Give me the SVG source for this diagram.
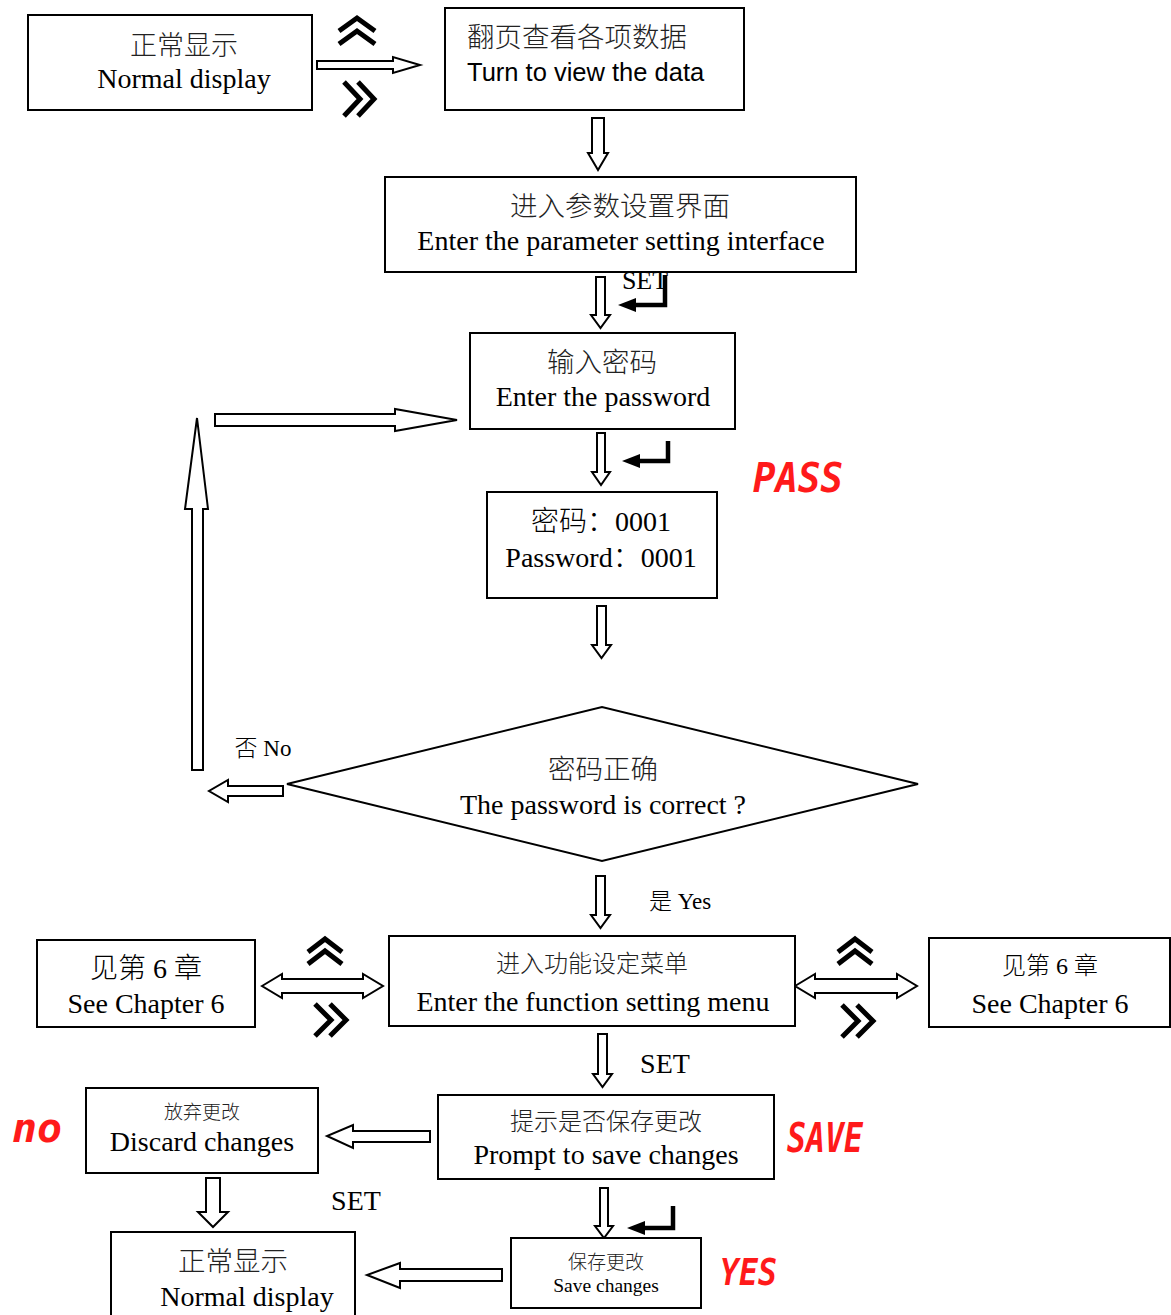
<svg xmlns="http://www.w3.org/2000/svg" width="1171" height="1315" viewBox="0 0 1171 1315">
<style>
.bg{fill:#fff}
.box{fill:#fff;stroke:#000;stroke-width:2}
.arr{fill:#fff;stroke:#000;stroke-width:2;stroke-linejoin:miter}
.chev{fill:none;stroke:#000;stroke-width:5;stroke-linejoin:miter;stroke-linecap:butt}
.ent{fill:none;stroke:#000;stroke-width:4.5}
.enth{fill:#000}
.t{font-family:"Liberation Serif","Noto Sans CJK SC",serif;font-size:28px;font-weight:300;fill:#000;text-anchor:middle}
.cn{font-family:"Liberation Serif","Noto Sans CJK SC",serif;font-weight:300;fill:#222;text-anchor:middle}
.seg{font-family:"DejaVu Sans Mono",monospace;font-weight:bold;font-style:italic;fill:#ff1a1a}
</style>
<rect class="bg" x="0" y="0" width="1171" height="1315"/>

<g id="connectors">
  <polygon class="arr" points="317,61 393,61 393,57 420,65 393,73 393,69 317,69"/>
  <polyline class="chev" points="339,31 357,18 375,31"/>
  <polyline class="chev" points="339,44 357,31 375,44"/>
  <polyline class="chev" points="344,82 360,99 344,116"/>
  <polyline class="chev" points="358,82 374,99 358,116"/>
  <polygon class="arr" points="592,118 604,118 604,153 608,153 598,170 588,153 592,153"/>
  <polygon class="arr" points="596,277 605,277 605,315 610,315 600.5,328 591,315 596,315"/>
  <polyline class="ent" points="665,275 665,305 632,305"/>
  <polygon class="enth" points="618,305 636,298 636,312"/>
  <polygon class="arr" points="215,414 395,414 395,409 457,420 395,431 395,426 215,426"/>
  <polygon class="arr" points="192,770 203,770 203,509 208,509 197,418 185,509 192,509"/>
  <polygon class="arr" points="597,433 605,433 605,472 610,472 601,485 592,472 597,472"/>
  <polyline class="ent" points="668,441 668,461 636,461"/>
  <polygon class="enth" points="622,461 640,454 640,468"/>
  <polygon class="arr" points="597,606 606,606 606,645 611,645 601.5,658 592,645 597,645"/>
  <polygon class="arr" points="283,786 228,786 228,780 209,791 228,802 228,796 283,796"/>
  <polygon class="arr" points="596,876 605,876 605,915 610,915 600.5,928 591,915 596,915"/>
  <polygon class="arr" points="262,986 282,974 282,979 363,979 363,974 383,986 363,998 363,993 282,993 282,998"/>
  <polyline class="chev" points="308,952 325,939 342,952"/>
  <polyline class="chev" points="308,964 325,951 342,964"/>
  <polyline class="chev" points="315,1004 331,1020 315,1036"/>
  <polyline class="chev" points="330,1004 346,1020 330,1036"/>
  <polygon class="arr" points="795,986 815,974 815,979 897,979 897,974 917,986 897,998 897,993 815,993 815,998"/>
  <polyline class="chev" points="838,952 855,939 872,952"/>
  <polyline class="chev" points="838,964 855,951 872,964"/>
  <polyline class="chev" points="842,1005 858,1021 842,1037"/>
  <polyline class="chev" points="857,1005 873,1021 857,1037"/>
  <polygon class="arr" points="598,1034 607,1034 607,1074 612,1074 602.5,1087 593,1074 598,1074"/>
  <polygon class="arr" points="430,1131 353,1131 353,1125 327,1136 353,1148 353,1142 430,1142"/>
  <polygon class="arr" points="206,1178 220,1178 220,1212 228,1212 213,1227 198,1212 206,1212"/>
  <polygon class="arr" points="600,1188 608,1188 608,1226 613,1226 604,1238 595,1226 600,1226"/>
  <polyline class="ent" points="673,1206 673,1228 641,1228"/>
  <polygon class="enth" points="627,1228 645,1221 645,1235"/>
  <polygon class="arr" points="502,1269 400,1269 400,1263 367,1275 400,1288 400,1281 502,1281"/>
</g>

<g id="labels">
  <text class="t" x="645" y="289" style="font-size:26px">SET</text>
  <text class="t" x="263" y="756" style="font-size:23px">否 No</text>
  <text class="t" x="680" y="909" style="font-size:23px">是 Yes</text>
  <text class="t" x="665" y="1073">SET</text>
  <text class="t" x="356" y="1210">SET</text>
  <text class="seg" x="753" y="492" style="font-size:40px" textLength="90" lengthAdjust="spacingAndGlyphs">PASS</text>
  <text class="seg" x="787" y="1152" style="font-size:40px" textLength="76" lengthAdjust="spacingAndGlyphs">SAVE</text>
  <text class="seg" x="12" y="1142" style="font-size:40px" textLength="50" lengthAdjust="spacingAndGlyphs">no</text>
  <text class="seg" x="720" y="1285" style="font-size:37px" textLength="57" lengthAdjust="spacingAndGlyphs">YES</text>
</g>

<g id="n-normal1">
  <rect class="box" x="28" y="15" width="284" height="95"/>
  <text class="cn" x="184" y="55" style="font-size:27px">正常显示</text>
  <text class="t" x="184" y="88">Normal display</text>
</g>
<g id="n-view">
  <rect class="box" x="445" y="8" width="299" height="102"/>
  <text class="cn" x="467" y="47" style="font-size:27.5px;text-anchor:start">翻页查看各项数据</text>
  <text x="467" y="81" style="font-family:'Liberation Sans',Arial,sans-serif;font-size:25.5px">Turn to view the data</text>
</g>
<g id="n-param">
  <rect class="box" x="385" y="177" width="471" height="95"/>
  <text class="cn" x="620" y="216" style="font-size:27.5px">进入参数设置界面</text>
  <text class="t" x="621" y="250">Enter the parameter setting interface</text>
</g>
<g id="n-pwd">
  <rect class="box" x="470" y="333" width="265" height="96"/>
  <text class="cn" x="602" y="372" style="font-size:27.5px">输入密码</text>
  <text class="t" x="603" y="406">Enter the password</text>
</g>
<g id="n-pwdval">
  <rect class="box" x="487" y="492" width="230" height="106"/>
  <text class="t" x="601" y="531">密码：0001</text>
  <text class="t" x="601" y="567">Password：0001</text>
</g>
<g id="n-check">
  <polygon class="box" points="287,784 602,707 918,784 602,861"/>
  <text class="cn" x="603" y="779" style="font-size:27.5px">密码正确</text>
  <text class="t" x="603" y="814">The password is correct ?</text>
</g>
<g id="n-func">
  <rect class="box" x="389" y="936" width="406" height="90"/>
  <text class="cn" x="592" y="972" style="font-size:24px">进入功能设定菜单</text>
  <text class="t" x="593" y="1011">Enter the function setting menu</text>
</g>
<g id="n-ch6-left">
  <rect class="box" x="37" y="940" width="218" height="87"/>
  <text class="t" x="146" y="978">见第 6 章</text>
  <text class="t" x="146" y="1013">See Chapter 6</text>
</g>
<g id="n-ch6-right">
  <rect class="box" x="929" y="938" width="241" height="89"/>
  <text class="t" x="1050" y="974" style="font-size:24px">见第 6  章</text>
  <text class="t" x="1050" y="1013">See Chapter 6</text>
</g>
<g id="n-prompt">
  <rect class="box" x="438" y="1095" width="336" height="84"/>
  <text class="cn" x="606" y="1130" style="font-size:24px">提示是否保存更改</text>
  <text class="t" x="606" y="1164">Prompt to save changes</text>
</g>
<g id="n-discard">
  <rect class="box" x="86" y="1088" width="232" height="85"/>
  <text class="cn" x="202" y="1119" style="font-size:19px">放弃更改</text>
  <text class="t" x="202" y="1151">Discard changes</text>
</g>
<g id="n-save">
  <rect class="box" x="511" y="1238" width="190" height="70"/>
  <text class="cn" x="606" y="1269" style="font-size:19px">保存更改</text>
  <text class="t" x="606" y="1292" style="font-size:19.5px">Save changes</text>
</g>
<g id="n-normal2">
  <rect class="box" x="111" y="1232" width="244" height="100"/>
  <text class="cn" x="233" y="1271" style="font-size:27.5px">正常显示</text>
  <text class="t" x="247" y="1306">Normal display</text>
</g>
</svg>
